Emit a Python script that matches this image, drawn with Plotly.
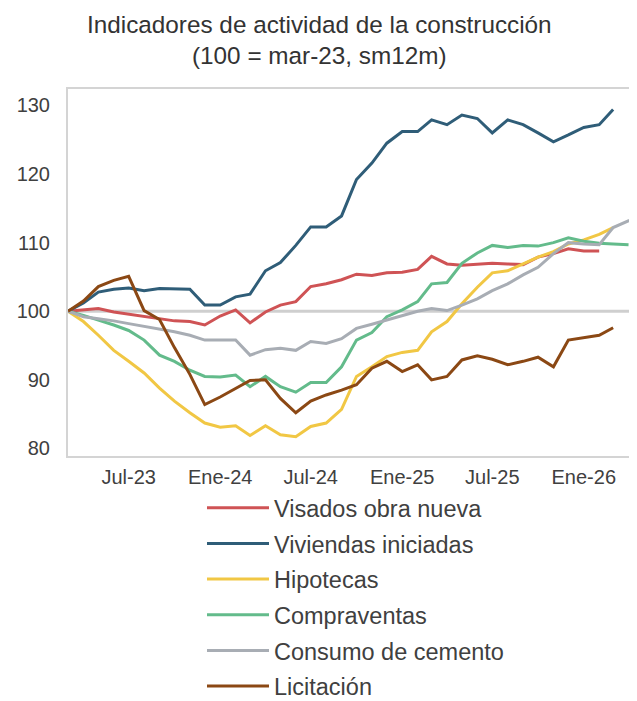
import plotly.graph_objects as go

# ---- data (index 100 = mar-23, 12-month moving sum) ----
months = [
    "2023-03-01", "2023-04-01", "2023-05-01", "2023-06-01", "2023-07-01", "2023-08-01",
    "2023-09-01", "2023-10-01", "2023-11-01", "2023-12-01", "2024-01-01", "2024-02-01",
    "2024-03-01", "2024-04-01", "2024-05-01", "2024-06-01", "2024-07-01", "2024-08-01",
    "2024-09-01", "2024-10-01", "2024-11-01", "2024-12-01", "2025-01-01", "2025-02-01",
    "2025-03-01", "2025-04-01", "2025-05-01", "2025-06-01", "2025-07-01", "2025-08-01",
    "2025-09-01", "2025-10-01", "2025-11-01", "2025-12-01", "2026-01-01", "2026-02-01",
    "2026-03-01", "2026-04-01", "2026-05-01",
]

visados = [100, 100.2, 100.4, 99.9, 99.6, 99.2, 98.9, 98.6, 98.5, 98.0, 99.3, 100.2,
           98.3, 99.9, 100.9, 101.4, 103.6, 104.0, 104.6, 105.4, 105.2, 105.6, 105.7, 106.1,
           108.0, 106.9, 106.7, 106.8, 107.0, 106.9, 106.8, 107.9, 108.4, 109.1, 108.8, 108.8]

viviendas = [100, 101.2, 102.8, 103.2, 103.4, 103.0, 103.3, 103.3, 103.2, 100.9, 100.9, 102.1,
             102.5, 105.9, 107.1, 109.6, 112.3, 112.3, 113.9, 119.2, 121.6, 124.5, 126.2, 126.2,
             127.9, 127.2, 128.6, 128.1, 126.0, 127.9, 127.2, 126.0, 124.7, 125.7, 126.8, 127.2,
             129.4]

hipotecas = [100, 98.5, 96.5, 94.3, 92.7, 91.0, 88.8, 86.9, 85.2, 83.7, 83.1, 83.3,
             81.9, 83.3, 82.0, 81.7, 83.2, 83.7, 85.7, 90.5, 91.9, 93.4, 94.0, 94.3,
             97.0, 98.5, 101.1, 103.5, 105.6, 105.9, 106.9, 107.9, 108.7, 109.8, 110.4, 111.2,
             112.2]

compraventas = [100, 99.4, 98.7, 98.0, 97.2, 95.8, 93.6, 92.7, 91.4, 90.5, 90.4, 90.7,
                89.0, 90.5, 89.0, 88.2, 89.6, 89.6, 91.9, 95.8, 96.9, 99.2, 100.2, 101.4,
                104.0, 104.2, 107.0, 108.5, 109.6, 109.3, 109.6, 109.5, 110.0, 110.7, 110.2, 109.9,
                109.8, 109.7]

cemento = [100, 99.2, 98.9, 98.6, 98.2, 97.8, 97.3, 97.0, 96.5, 95.8, 95.8, 95.8,
           93.6, 94.4, 94.6, 94.3, 95.6, 95.3, 96.0, 97.5, 98.1, 98.7, 99.4, 100.0,
           100.4, 100.1, 100.9, 101.8, 103.0, 104.0, 105.3, 106.4, 108.4, 110.0, 109.8, 109.7,
           112.2, 113.2, 113.2]

licitacion = [100, 101.5, 103.6, 104.5, 105.1, 100.1, 98.8, 94.7, 90.8, 86.4, 87.5, 88.7,
              89.9, 90.0, 87.3, 85.2, 86.9, 87.8, 88.5, 89.3, 91.7, 92.7, 91.2, 92.2,
              90.0, 90.5, 92.9, 93.5, 93.0, 92.2, 92.7, 93.3, 91.9, 95.8, 96.2, 96.5,
              97.6]

series_names = ["Visados obra nueva", "Viviendas iniciadas", "Hipotecas",
                "Compraventas", "Consumo de cemento", "Licitación"]
series_values = [visados, viviendas, hipotecas, compraventas, cemento, licitacion]
series_colors = ["#cf5355", "#2f5d78", "#f1c744", "#63bb8b", "#a8adb4", "#8b4814"]

tick_dates = ["2023-07-01", "2024-01-01", "2024-07-01", "2025-01-01", "2025-07-01", "2026-01-01"]
tick_labels = ["Jul-23", "Ene-24", "Jul-24", "Ene-25", "Jul-25", "Ene-26"]
y_ticks = [80, 90, 100, 110, 120, 130]
BASE = 100

title_line1 = "Indicadores de actividad de la construcción"
title_line2 = "(100 = mar-23, sm12m)"

FONT = "Liberation Sans, Arial, sans-serif"
TEXT = "#404040"

fig = go.Figure()
for i, (name, vals, col) in enumerate(zip(series_names, series_values, series_colors)):
    fig.add_trace(go.Scatter(
        x=months[:len(vals)], y=vals, name=name, mode="lines",
        line=dict(color=col, width=3), legendgroup=f"g{i}",
    ))

fig.add_shape(type="line", xref="paper", x0=0, x1=1, yref="y", y0=BASE, y1=BASE,
              line=dict(color="#cfcfcf", width=3), layer="below")

fig.add_annotation(text=title_line1, xref="paper", yref="paper", x=0.442, y=1.176,
                   xanchor="center", yanchor="middle", showarrow=False,
                   font=dict(family=FONT, size=24.3, color="#333333"))
fig.add_annotation(text=title_line2, xref="paper", yref="paper", x=0.442, y=1.0905,
                   xanchor="center", yanchor="middle", showarrow=False,
                   font=dict(family=FONT, size=24.3, color="#333333"))

fig.update_layout(
    width=637, height=701,
    margin=dict(l=60, r=8, t=81, b=253, autoexpand=False),
    paper_bgcolor="white", plot_bgcolor="white",
    font=dict(family=FONT, size=20, color=TEXT),
    showlegend=True,
    legend=dict(x=0.2355, y=-0.0818, xanchor="left", yanchor="top",
                font=dict(family=FONT, size=23.5, color=TEXT),
                itemwidth=62, tracegroupgap=2.1, traceorder="grouped",
                bgcolor="rgba(0,0,0,0)"),
)

fig.update_xaxes(
    type="date", range=["2023-03-01", "2026-04-18"],
    tickvals=tick_dates, ticktext=tick_labels,
    showgrid=False, zeroline=False,
    showline=True, linecolor="#d4d4d4", linewidth=2, mirror=True,
    ticks="", ticklabelstandoff=2, tickfont=dict(family=FONT, size=20, color=TEXT),
)
fig.update_yaxes(
    range=[78.9, 132.4], tickvals=y_ticks,
    showgrid=False, zeroline=False,
    showline=True, linecolor="#d4d4d4", linewidth=2, mirror=False,
    ticks="", ticklabelstandoff=12, tickfont=dict(family=FONT, size=20, color=TEXT),
)

fig.write_html("out.html")
